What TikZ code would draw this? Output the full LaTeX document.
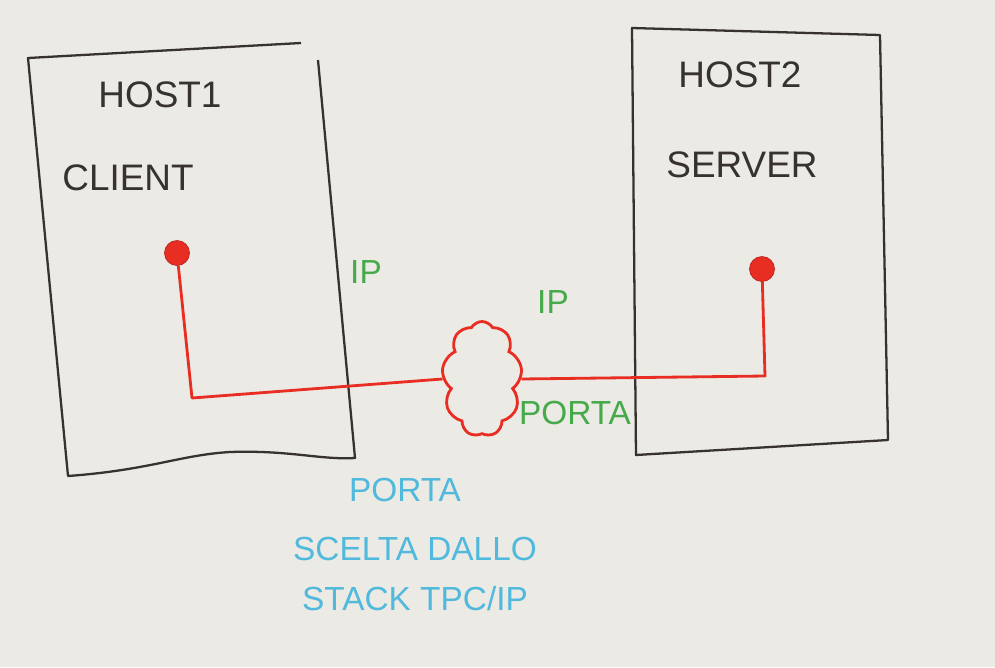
\documentclass[tikz,border=0pt]{standalone}
\usepackage{fontspec}
\setmainfont{Liberation Sans}
\usepackage{tikz}
\usetikzlibrary{shapes,positioning,calc}
\usepackage{xcolor}
\definecolor{board}{RGB}{236,234,229}
\definecolor{marker}{RGB}{55,50,45}
\definecolor{redpen}{RGB}{232,45,35}
\definecolor{greenpen}{RGB}{70,170,75}
\definecolor{bluepen}{RGB}{80,185,220}

\begin{document}
\begin{tikzpicture}[x=0.02cm, y=-0.02cm,
  hostbox/.style={draw=marker, line width=1.3pt, line join=round},
  label/.style={font=\fontsize{21}{24}\selectfont, text=marker},
  iplabel/.style={font=\fontsize{19}{22}\selectfont, text=greenpen},
  note/.style={font=\fontsize{19}{29}\selectfont, text=bluepen, align=center},
  endpoint/.style={circle, fill=redpen, draw=redpen!80!black, minimum size=0.5cm, inner sep=0pt},
  link/.style={draw=redpen, line width=1.6pt, line join=round},
  net/.style={cloud, cloud puffs=9, cloud puff arc=120, aspect=0.7, draw=redpen, line width=1.6pt, minimum width=1.6cm, minimum height=2.3cm, inner sep=0pt}
]
  \fill[board] (0,0) rectangle (995,667);
  \useasboundingbox (0,0) rectangle (995,667);

  % the two hosts
  \draw[hostbox] (301,43) -- (28,58) -- (68,476)
    .. controls (150,470) and (180,455) .. (230,452)
    .. controls (290,450) and (320,460) .. (355,458) -- (318,60);
  \draw[hostbox] (632,28) -- (880,35) -- (888,440) -- (636,455) -- cycle;

  \node[label] (hostA) at (160,95) {HOST1};
  \node[label] (client) at (128,178) {CLIENT};
  \node[label] (hostB) at (740,75) {HOST2};
  \node[label] (server) at (742,165) {SERVER};

  % end points and network
  \node[endpoint] (dotA) at (177,253) {};
  \node[endpoint] (dotB) at (762,269) {};
  \node[net] (cloud) at (482,379) {};

  \coordinate (bendA) at (192,398);
  \coordinate (bendB) at (765,376);
  \draw[link] (dotA) -- (bendA) -- (cloud.west);
  \draw[link] (cloud.east) -- (bendB) -- (dotB);

  \node[iplabel] (ipA) at (366,272) {IP};
  \node[iplabel] (ipB) at (553,302) {IP};
  \node[iplabel] (portB) at (575,413) {PORTA};

  \node[note] (portA) at (405,490) {PORTA};
  \node[note] (stackA) at (415,574) {SCELTA DALLO\\STACK TPC/IP};
\end{tikzpicture}
\end{document}
